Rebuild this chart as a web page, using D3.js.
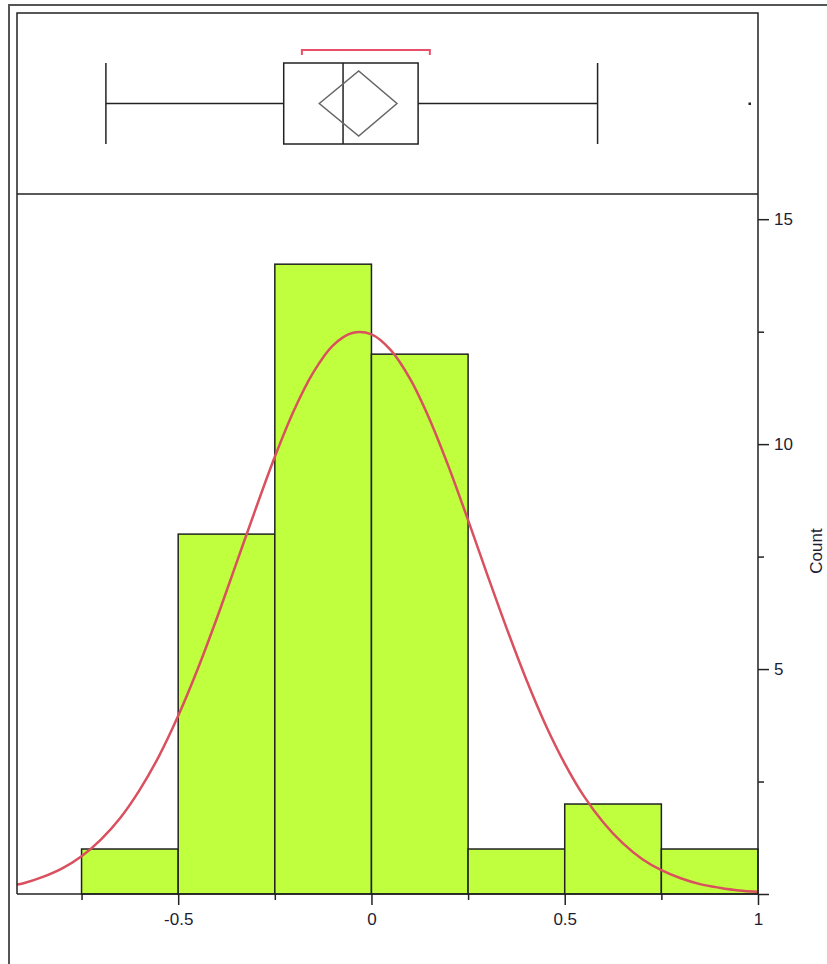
<!DOCTYPE html>
<html>
<head>
<meta charset="utf-8">
<script src="https://cdn.jsdelivr.net/npm/d3@7"></script>
<style>
  body { margin: 0; background: #fff; }
  svg text { font-family: "Liberation Sans", Arial, sans-serif; fill: #1d1d33; }
</style>
</head>
<body>
<div id="chart"></div>
<script>
// histogram bins (left edge, count), bin width 0.25
let binStarts = [-0.75, -0.5, -0.25, 0, 0.25, 0.5, 0.75]
let binCounts = [1, 8, 14, 12, 1, 2, 1]
let binWidth = 0.25

// fitted normal curve
let curveX = [-0.917, -0.9, -0.85, -0.8, -0.75, -0.7, -0.65, -0.6, -0.55, -0.5, -0.45, -0.4, -0.35, -0.3, -0.25, -0.2, -0.15, -0.1, -0.05,
              0, 0.05, 0.1, 0.15, 0.2, 0.25, 0.3, 0.35, 0.4, 0.45, 0.5, 0.55, 0.6, 0.65, 0.7, 0.75, 0.8, 0.85, 0.9, 0.95, 1.0]
let curveY = [0.21, 0.24, 0.38, 0.57, 0.84, 1.21, 1.69, 2.31, 3.06, 3.96, 4.99, 6.13, 7.34, 8.55, 9.72, 10.76, 11.60, 12.19, 12.47,
              12.44, 12.09, 11.45, 10.56, 9.49, 8.31, 7.09, 5.90, 4.78, 3.77, 2.90, 2.17, 1.59, 1.13, 0.78, 0.53, 0.35, 0.22, 0.14, 0.08, 0.05]

// outlier box plot
let whiskers = [-0.687, 0.585]
let quartiles = [-0.227, -0.0735, 0.1207]   // q1, median, q3
let meanDiamond = [-0.135, -0.033, 0.066]   // lower, mean, upper
let shortestHalf = [-0.18, 0.151]
let outliers = [0.978]

// axis ticks
let xMajor = [-0.5, 0, 0.5, 1]
let xMinor = [-0.75, -0.25, 0.25, 0.75]
let yMajor = [0, 5, 10, 15]
let yMinor = [2.5, 7.5, 12.5]

var W = 827, H = 964
var pLeft = 17, pRight = 758, pTop = 13, pSplit = 194, pBottom = 894

var svg = d3.select("#chart")
  .append("svg")
    .attr("width", W)
    .attr("height", H)

// outer frame
svg.append("path")
  .attr("d", "M9," + H + "V5H" + W)
  .attr("fill", "none")
  .attr("stroke", "#555")
  .attr("stroke-width", 2)

var x = d3.scaleLinear().domain([-0.917, 1.0]).range([pLeft, pRight])
var y = d3.scaleLinear().domain([0, 15.56]).range([pBottom, pSplit])

// bars
svg.selectAll("rect.bar")
  .data(binStarts.map((s, i) => ({x0: s, x1: s + binWidth, n: binCounts[i]})))
  .enter()
  .append("rect")
    .attr("class", "bar")
    .attr("x", d => x(d.x0))
    .attr("y", d => y(d.n))
    .attr("width", d => x(d.x1) - x(d.x0))
    .attr("height", d => y(0) - y(d.n))
    .style("fill", "#c0ff3e")
    .style("stroke", "#222")
    .style("stroke-width", 1.5)

// normal curve
var line = d3.line()
  .x((d, i) => x(curveX[i]))
  .y(d => y(d))
  .curve(d3.curveCatmullRom)
svg.append("path")
  .attr("d", line(curveY))
  .attr("fill", "none")
  .attr("stroke", "#d9505f")
  .attr("stroke-width", 2.5)

// frames of the two panels
svg.append("path")
  .attr("d", "M" + pLeft + "," + pBottom + "V" + pTop + "H" + pRight + "V" + pBottom)
  .attr("fill", "none")
  .attr("stroke", "#222")
  .attr("stroke-width", 1.5)
svg.append("line")
  .attr("x1", pLeft).attr("x2", pRight)
  .attr("y1", pSplit).attr("y2", pSplit)
  .attr("stroke", "#222")
  .attr("stroke-width", 1.5)

// x axis (minor and major ticks in their own groups)
svg.append("line")
  .attr("x1", pLeft).attr("x2", pRight)
  .attr("y1", pBottom).attr("y2", pBottom)
  .attr("stroke", "#222").attr("stroke-width", 1.5)
svg.append("g")
  .attr("class", "axis")
  .attr("transform", "translate(0," + pBottom + ")")
  .call(d3.axisBottom(x).tickValues(xMinor).tickSize(6).tickSizeOuter(0).tickFormat(""))
svg.append("g")
  .attr("class", "axis")
  .attr("transform", "translate(0," + pBottom + ")")
  .call(d3.axisBottom(x).tickValues(xMajor).tickSize(11).tickSizeOuter(0).tickPadding(8)
    .tickFormat(d => String(d)))

// y axis on the right
svg.append("g")
  .attr("class", "axis")
  .attr("transform", "translate(" + pRight + ",0)")
  .call(d3.axisRight(y).tickValues(yMinor).tickSize(6).tickSizeOuter(0).tickFormat(""))
svg.append("g")
  .attr("class", "axis")
  .attr("transform", "translate(" + pRight + ",0)")
  .call(d3.axisRight(y).tickValues(yMajor).tickSize(11).tickSizeOuter(0).tickPadding(5)
    .tickFormat(d => d === 0 ? "" : String(d)))

svg.selectAll(".axis .domain").remove()
svg.selectAll(".axis line").attr("stroke", "#222").attr("stroke-width", 1.5)
svg.selectAll(".axis text").attr("font-size", 17).attr("fill", "#1d1d33")

svg.append("text")
  .attr("transform", "translate(822,551) rotate(-90)")
  .attr("text-anchor", "middle")
  .attr("font-size", 17)
  .text("Count")

// box plot
var cy = 103.5, bh = 81, dh = 65
var g = svg.append("g")
g.append("line")
  .attr("x1", x(whiskers[0])).attr("x2", x(quartiles[0]))
  .attr("y1", cy).attr("y2", cy)
g.append("line")
  .attr("x1", x(quartiles[2])).attr("x2", x(whiskers[1]))
  .attr("y1", cy).attr("y2", cy)
g.selectAll("line.cap")
  .data(whiskers)
  .enter()
  .append("line")
    .attr("class", "cap")
    .attr("x1", d => x(d)).attr("x2", d => x(d))
    .attr("y1", cy - bh / 2).attr("y2", cy + bh / 2)
g.append("rect")
  .attr("x", x(quartiles[0]))
  .attr("y", cy - bh / 2)
  .attr("width", x(quartiles[2]) - x(quartiles[0]))
  .attr("height", bh)
  .attr("fill", "none")
g.append("line")
  .attr("x1", x(quartiles[1])).attr("x2", x(quartiles[1]))
  .attr("y1", cy - bh / 2).attr("y2", cy + bh / 2)
g.selectAll("line, rect").attr("stroke", "#222").attr("stroke-width", 1.5)

g.append("path")
  .attr("d", "M" + x(meanDiamond[0]) + "," + cy +
             "L" + x(meanDiamond[1]) + "," + (cy - dh / 2) +
             "L" + x(meanDiamond[2]) + "," + cy +
             "L" + x(meanDiamond[1]) + "," + (cy + dh / 2) + "Z")
  .attr("fill", "none")
  .attr("stroke", "#666")
  .attr("stroke-width", 1.5)

// shortest half bracket
g.append("path")
  .attr("d", "M" + x(shortestHalf[0]) + ",55V50H" + x(shortestHalf[1]) + "V55")
  .attr("fill", "none")
  .attr("stroke", "#e8506a")
  .attr("stroke-width", 2)

g.selectAll("rect.out")
  .data(outliers)
  .enter()
  .append("rect")
    .attr("class", "out")
    .attr("x", d => x(d) - 1)
    .attr("y", cy - 1)
    .attr("width", 2.5).attr("height", 2.5)
    .attr("fill", "#222")
</script>
</body>
</html>
